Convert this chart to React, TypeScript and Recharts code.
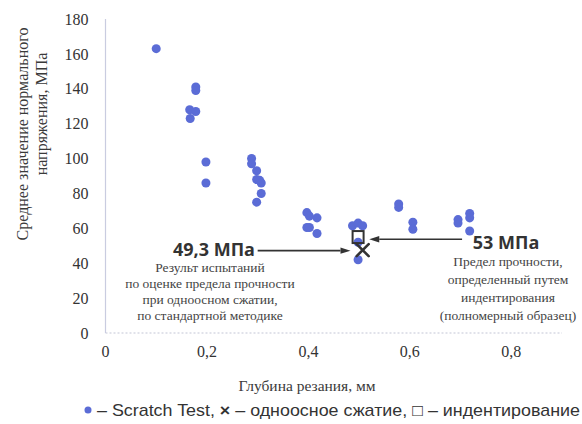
import React from 'react';
import { ScatterChart, Scatter, XAxis, YAxis, ReferenceLine } from 'recharts';

const scratchDepth = [0.1, 0.178, 0.178, 0.166, 0.178, 0.167, 0.198, 0.198, 0.288, 0.288, 0.298, 0.298, 0.304, 0.307, 0.307, 0.298, 0.397, 0.402, 0.417, 0.397, 0.402, 0.417, 0.487, 0.498, 0.507, 0.498, 0.498, 0.578, 0.578, 0.606, 0.606, 0.695, 0.695, 0.718, 0.718, 0.718];
const scratchStress = [163, 141, 139, 128, 127, 123, 98, 86, 100, 97, 93, 88, 87.5, 86, 80, 75, 69, 67, 66, 60.5, 60.5, 57, 61.5, 63, 61.5, 52, 42, 74, 72, 63.5, 59.5, 65, 63, 68.5, 66, 58.5];
const uniaxialDepth = [0.507];
const uniaxialStress = [47.5];
const indentDepth = [0.498];
const indentStress = [55];

const xTicks = [0, 0.2, 0.4, 0.6, 0.8];
const yTicks = [0, 20, 40, 60, 80, 100, 120, 140, 160, 180];

const scratchData = scratchDepth.map((x, i) => ({ x, y: scratchStress[i] }));
const uniaxialData = uniaxialDepth.map((x, i) => ({ x, y: uniaxialStress[i] }));
const indentData = indentDepth.map((x, i) => ({ x, y: indentStress[i] }));

const arrowLeft = [{ x: 0.3, y: 47.2 }, { x: 0.483, y: 47.2 }];
const arrowRight = [{ x: 0.703, y: 53.7 }, { x: 0.52, y: 53.7 }];

const SERIF = '"Liberation Serif", "DejaVu Serif", serif';
const BOLD = '"Open Sans", "Noto Sans", sans-serif';
const INK = '#333';
const BLUE = '#5b6cd6';

const ArrowShape = (props: any) => {
  const { x1, y1, x2, y2 } = props;
  if (x1 == null) return null;
  const dx = x2 - x1;
  const dy = y2 - y1;
  const len = Math.sqrt(dx * dx + dy * dy) || 1;
  const ux = dx / len;
  const uy = dy / len;
  const hl = 10;
  const hw = 3.2;
  const bx = x2 - ux * hl;
  const by = y2 - uy * hl;
  return (
    <g>
      <line x1={x1} y1={y1} x2={bx} y2={by} stroke={INK} strokeWidth={1.6} />
      <polygon
        points={`${x2},${y2} ${bx - uy * hw},${by + ux * hw} ${bx + uy * hw},${by - ux * hw}`}
        fill={INK}
      />
    </g>
  );
};

const SquareShape = (props: any) => {
  const { cx, cy } = props;
  return <rect x={cx - 5.5} y={cy - 6} width={11} height={12} fill="none" stroke={INK} strokeWidth={2} />;
};

const CrossShape = (props: any) => {
  const { cx, cy } = props;
  const s = 6;
  return (
    <g stroke={INK} strokeWidth={2.6} strokeLinecap="round">
      <line x1={cx - s} y1={cy - s} x2={cx + s} y2={cy + s} />
      <line x1={cx - s} y1={cy + s} x2={cx + s} y2={cy - s} />
    </g>
  );
};

const fmt = (v: number) => (v === 0 ? '0' : String(v).replace('.', ','));

export default function App() {
  return (
    <div style={{ position: 'absolute', left: 0, top: 0, width: 582, height: 424, background: '#fff' }}>
      <ScatterChart width={582} height={424} margin={{ top: 19, right: 20, bottom: 0, left: 0 }}>
        <XAxis
          type="number"
          dataKey="x"
          domain={[0, 0.9]}
          ticks={xTicks}
          tickFormatter={fmt}
          height={91}
          tickLine={false}
          tickSize={0}
          tickMargin={13}
          axisLine={{ stroke: '#c3c6d6', strokeDasharray: '2 2', strokeWidth: 1.2 }}
          tick={{ fill: INK, fontSize: 16, fontFamily: SERIF }}
        />
        <YAxis
          type="number"
          dataKey="y"
          domain={[0, 180]}
          ticks={yTicks}
          width={105.5}
          tickLine={false}
          tickSize={0}
          tickMargin={17}
          axisLine={{ stroke: '#c9cce0', strokeWidth: 1.2 }}
          tick={{ fill: INK, fontSize: 16, fontFamily: SERIF }}
        />
        <Scatter data={scratchData} fill={BLUE} shape="circle" isAnimationActive={false} />
        <Scatter data={indentData} shape={SquareShape} isAnimationActive={false} />
        <Scatter data={uniaxialData} shape={CrossShape} isAnimationActive={false} />
        <ReferenceLine segment={arrowLeft} shape={ArrowShape} ifOverflow="visible" />
        <ReferenceLine segment={arrowRight} shape={ArrowShape} ifOverflow="visible" />
      </ScatterChart>
      <svg
        width={582}
        height={424}
        style={{ position: 'absolute', left: 0, top: 0, pointerEvents: 'none' }}
      >
        <g fontFamily={SERIF} fill="#3a3a3a" fontSize={16} textAnchor="middle">
          <text transform="translate(22,134) rotate(-90)" dominantBaseline="central">
            Среднее значение нормального
          </text>
          <text transform="translate(41,114) rotate(-90)" dominantBaseline="central">
            напряжения, МПа
          </text>
          <text x={307} y={385} fontSize={15.5} dominantBaseline="central">
            Глубина резания, мм
          </text>
        </g>
        <g fontFamily={BOLD} fontWeight={700} fontSize={18} fill={INK} textAnchor="middle">
          <text x={214} y={249} dominantBaseline="central">49,3 МПа</text>
          <text x={506} y={242} dominantBaseline="central">53 МПа</text>
        </g>
        <g fontFamily={SERIF} fontSize={13.5} fill="#444" textAnchor="middle">
          <text x={210} y={267} dominantBaseline="central">Результ испытаний</text>
          <text x={210} y={283} dominantBaseline="central">по оценке предела прочности</text>
          <text x={210} y={299} dominantBaseline="central">при одноосном сжатии,</text>
          <text x={210} y={315} dominantBaseline="central">по стандартной методике</text>
          <text x={508} y={261} dominantBaseline="central">Предел прочности,</text>
          <text x={508} y={279} dominantBaseline="central">определенный путем</text>
          <text x={508} y={297} dominantBaseline="central">индентирования</text>
          <text x={508} y={315} dominantBaseline="central">(полномерный образец)</text>
        </g>
        <circle cx={88} cy={410} r={3.5} fill={BLUE} />
        <text
          x={97}
          y={410}
          dominantBaseline="central"
          fontFamily={'"Liberation Sans Narrow", "Liberation Sans", sans-serif'}
          fontSize={17}
          fill={INK}
          textLength={483}
          lengthAdjust="spacingAndGlyphs"
        >
          – Scratch Test, <tspan fontWeight={700}>×</tspan> – одноосное сжатие, □ – индентирование
        </text>
      </svg>
    </div>
  );
}
